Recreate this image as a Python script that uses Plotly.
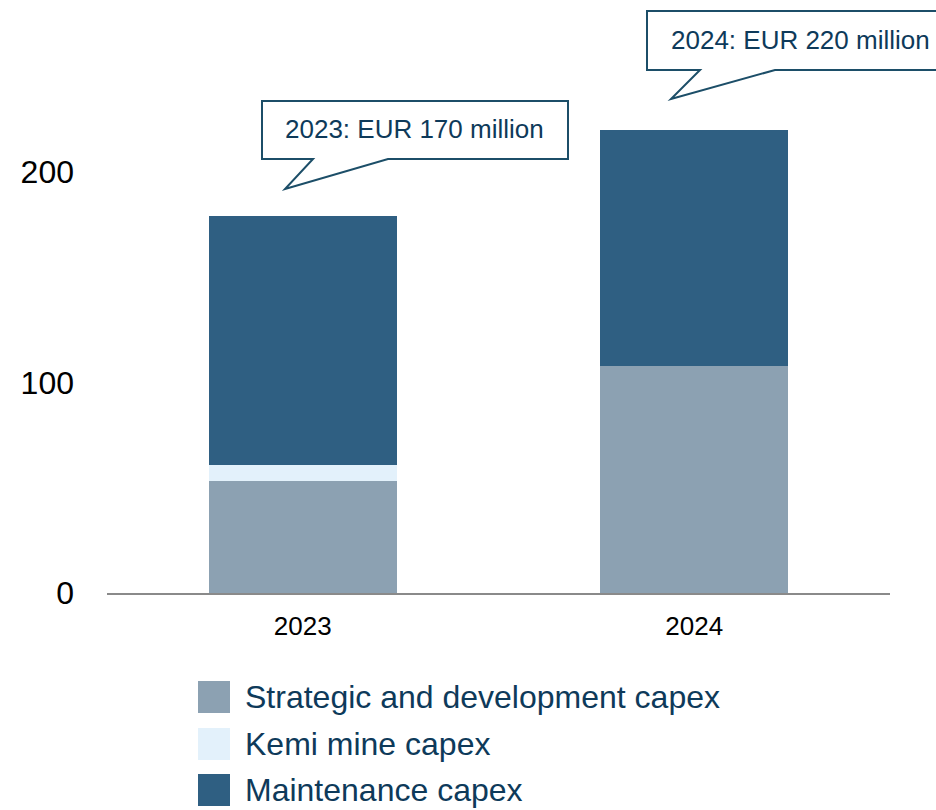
import plotly.graph_objects as go

years = ["2023", "2024"]
series_names = ["Strategic and development capex", "Kemi mine capex", "Maintenance capex"]
strategic = [53, 108]
kemi = [8, 0]
maintenance = [118, 112]
colors = ["#8ca1b2", "#e3f1fb", "#2f5f82"]
callout_texts = ["2023: EUR 170 million", "2024: EUR 220 million"]
y_ticks = [0, 100, 200]

W, H = 936, 810
ML, MR, MT, MB = 107, 46, 10, 217
PW, PH = W - ML - MR, H - MT - MB

def px(x):
    return (x - ML) / PW

def py(y):
    return (H - MB - y) / PH

text_col = "#0e3a5a"
line_col = "#1c4e68"

fig = go.Figure()
for name, vals, col in zip(series_names, [strategic, kemi, maintenance], colors):
    fig.add_trace(go.Bar(x=years, y=vals, name=name, marker=dict(color=col, line=dict(width=0)),
                         showlegend=False, hoverinfo="y+name"))

fig.update_layout(
    width=W, height=H, barmode="stack", bargap=0.52,
    margin=dict(l=ML, r=MR, t=MT, b=MB, pad=0),
    plot_bgcolor="white", paper_bgcolor="white",
    font=dict(family="Liberation Sans, Arial, sans-serif", color="black"),
    xaxis=dict(showline=True, linecolor="#8a8a8a", linewidth=1.5, showgrid=False, ticks="",
               tickfont=dict(size=26, color="black"), ticklabelstandoff=9, zeroline=False),
    yaxis=dict(range=[0, PH / 2.105], tickvals=y_ticks, showgrid=False, zeroline=False,
               showline=False, ticks="", tickfont=dict(size=32, color="black"),
               ticklabelstandoff=32),
)

# callouts
def callout(box, base, tip, text, tx, ty):
    x0, y0, x1, y1 = box
    b0, b1 = base
    path = (f"M {px(x0)},{py(y0)} L {px(x1)},{py(y0)} L {px(x1)},{py(y1)} L {px(b1)},{py(y1)} "
            f"L {px(tip[0])},{py(tip[1])} L {px(b0)},{py(y1)} L {px(x0)},{py(y1)} Z")
    fig.add_shape(type="path", path=path, xref="paper", yref="paper",
                  line=dict(color=line_col, width=2), fillcolor="white", layer="above")
    fig.add_annotation(x=px(tx), y=py(ty), xref="paper", yref="paper", text=text,
                       showarrow=False, font=dict(size=26, color=text_col),
                       xanchor="center", yanchor="middle")

callout((262, 101, 568, 159), (313, 388), (285, 189), callout_texts[0], 414, 129)
callout((647, 11, 960, 70), (700, 775), (671, 99), callout_texts[1], 800, 40)

# legend (manual, large swatches)
leg_y = [697, 744, 790]
for name, col, yc in zip(series_names, colors, leg_y):
    fig.add_shape(type="rect", xref="paper", yref="paper",
                  x0=px(198), x1=px(230), y0=py(yc - 16), y1=py(yc + 16),
                  fillcolor=col, line=dict(width=0))
    fig.add_annotation(x=px(243), y=py(yc), xref="paper", yref="paper", text=name,
                       showarrow=False, xanchor="left", yanchor="middle",
                       font=dict(size=32, color=text_col))

fig.write_html("out.html", config={"displayModeBar": False},
               post_script="document.body.style.margin='0px';document.body.style.overflow='hidden';")
